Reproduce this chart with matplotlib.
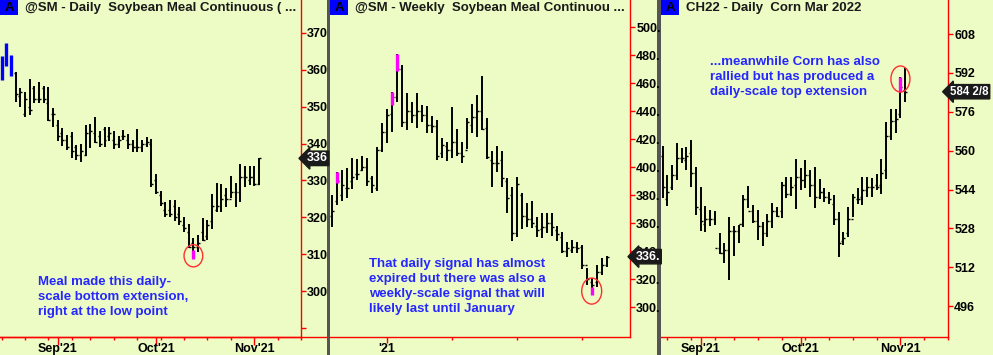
import numpy as np
import pandas as pd
import matplotlib
matplotlib.use("Agg")
import matplotlib.pyplot as plt
from matplotlib.patches import Rectangle, Ellipse
from matplotlib.lines import Line2D
import matplotlib.transforms as mtransforms

plt.rcParams['font.family'] = ['Liberation Sans', 'DejaVu Sans']

# ---------------- data ----------------
# Panel 1: @SM daily (bars start Mon 2021-08-16)
sm_d_high = [363.8, 367.2, 364.0, 359.5, 355.0, 354.1, 357.4, 355.6, 356.8, 355.6,
             355.3, 349.6, 346.4, 344.3, 342.4, 343.1, 339.5, 339.8, 345.1, 345.3,
             347.1, 343.5, 344.6, 344.4, 343.4, 342.1, 343.7, 342.6, 341.0, 343.9,
             341.0, 341.9, 341.3, 331.8, 327.2, 324.3, 324.6, 324.7, 322.9, 320.2,
             318.2, 314.3, 315.2, 319.8, 319.3, 326.3, 329.3, 329.1, 327.9, 331.3,
             329.3, 334.4, 334.0, 334.0, 333.9, 336.2]
sm_d_low = [357.3, 360.9, 358.2, 351.4, 349.8, 347.3, 347.8, 350.9, 350.9, 350.9,
            346.1, 344.6, 340.8, 339.4, 338.3, 336.0, 335.6, 335.1, 336.7, 338.7,
            340.1, 339.0, 339.0, 340.8, 338.5, 338.7, 341.0, 338.5, 337.6, 337.6,
            337.8, 339.0, 328.2, 326.4, 323.1, 320.0, 320.0, 318.9, 318.0, 316.1,
            311.6, 308.7, 310.7, 313.7, 313.9, 316.8, 321.6, 321.6, 322.9, 325.2,
            322.9, 324.3, 328.2, 328.8, 328.5, 328.8]
sm_d_open = [361, 362, 363, 359, 353, 348, 350, 355, 352, 355,
             351, 348, 345, 343, 341, 342, 339, 337, 337, 343,
             343, 342, 344, 342, 341, 340, 342, 341, 340, 339,
             339, 340, 340, 330, 326, 322, 322, 323, 321, 318,
             316, 313, 312, 316, 315, 319, 322, 323, 326, 325,
             327, 327, 331, 330, 331, 329]
sm_d_close = [360, 365, 359, 353.5, 354, 352, 349, 352, 352, 352,
              346.5, 348, 342, 341, 339, 338, 337, 338, 343, 343.5,
              340.5, 340, 341, 343, 340, 341, 342, 340, 339, 339,
              340, 340.5, 329, 327, 324, 321, 321, 320, 319, 317,
              312, 312, 313, 314, 318, 323, 323, 325, 325, 327,
              327, 331, 331, 331, 329, 336]
sm_d_blue = [0, 1, 2]
sm_d_signal = {41: (311.2, 308.7)}

# Panel 2: @SM weekly (bars start week of 2020-10-19)
sm_w_high = [380.0, 396.7, 397.9, 399.0, 406.2, 405.7, 407.9, 406.2, 393.6, 414.0,
             431.2, 441.2, 453.8, 480.7, 472.9, 452.6, 446.7, 453.1, 444.3, 443.6,
             436.4, 433.6, 420.5, 418.1, 443.1, 426.9, 418.1, 434.8, 445.0, 451.4,
             465.0, 434.8, 411.7, 415.0, 411.7, 392.4, 386.0, 393.1, 381.2, 374.0,
             375.9, 364.5, 366.9, 367.4, 367.4, 357.9, 353.8, 346.7, 347.9, 346.7,
             344.3, 327.6, 320.5, 330.0, 334.8, 336.4]
sm_w_low = [356.9, 372.9, 376.0, 377.6, 384.0, 390.7, 397.4, 386.7, 381.7, 383.1,
            410.9, 416.9, 425.2, 446.7, 428.3, 426.4, 431.2, 427.6, 432.4, 424.0,
            424.5, 405.0, 406.2, 404.5, 406.2, 407.9, 403.1, 412.6, 424.5, 421.7,
            426.4, 405.5, 386.0, 396.7, 386.0, 367.4, 347.4, 350.2, 355.5, 356.9,
            356.2, 350.2, 349.0, 353.1, 350.7, 347.4, 338.3, 335.5, 338.3, 338.3,
            326.9, 315.7, 308.6, 314.0, 322.9, 328.8]
sm_w_open = [365, 376, 380, 385, 390, 395, 398, 400, 392, 385,
             412, 425, 438, 450, 470, 432, 440, 437, 440, 437,
             430, 429, 410, 415, 412, 418, 410, 412, 430, 436,
             440, 428, 405, 403, 405, 390, 380, 353, 380, 365,
             363, 358, 356, 357, 360, 355, 350, 340, 341, 343,
             343, 330, 318, 318, 325, 330]
sm_w_close = [368.8, 390, 387, 385, 393, 395, 400, 390, 387, 412,
              425, 437, 450, 470, 432, 440, 437, 440, 437, 430,
              429, 408, 416, 412, 418, 410, 408, 432, 436, 440,
              427, 407, 403, 403, 392, 378, 353, 388, 365, 363,
              360, 355, 357, 360, 357, 352, 340, 342, 343, 342,
              330, 320, 316, 325, 330, 336]
sm_w_signal = {1: (396.7, 388.8), 12: (453.8, 444.3), 13: (480.7, 468.8), 52: (314.0, 308.6)}

# Panel 3: CH22 daily (bars start Fri 2021-08-20)
c_high = [561.9, 550.0, 554.1, 563.0, 561.0, 561.4, 564.4, 553.4, 545.2, 537.2,
          535.6, 535.3, 526.2, 522.1, 532.8, 529.0, 529.4, 541.7, 545.4, 537.6,
          535.6, 530.8, 533.9, 538.6, 536.9, 547.2, 549.0, 549.0, 556.4, 552.7,
          556.1, 552.0, 553.1, 548.2, 544.5, 543.1, 541.7, 534.9, 526.7, 536.9,
          542.2, 544.5, 549.3, 549.3, 548.6, 550.4, 556.4, 571.9, 577.0, 577.0,
          590.4, 593.9]
c_low = [540.4, 537.4, 543.8, 547.9, 554.8, 552.0, 544.9, 533.5, 527.1, 526.7,
         529.1, 529.4, 517.5, 513.9, 506.8, 516.6, 522.1, 528.7, 536.3, 530.1,
         523.2, 520.8, 524.3, 528.0, 532.8, 532.1, 540.4, 541.3, 535.8, 543.8,
         544.5, 541.1, 536.3, 540.0, 539.0, 538.0, 529.4, 516.4, 521.2, 524.6,
         532.8, 538.0, 537.6, 540.8, 540.8, 543.8, 542.2, 548.2, 564.4, 567.1,
         573.3, 580.2]
c_open = [558, 540, 545, 550, 557, 556, 559, 551, 536, 530,
          532, 532, 520, 518, 519, 527, 527, 530, 540, 535,
          531, 529, 526, 531, 535, 535, 546, 542, 546, 549,
          548, 550, 546, 541, 543, 541, 538, 532, 523, 526,
          532, 540, 541, 544, 545, 546, 546, 552, 566, 572,
          575, 585]
c_close = [545, 543, 550, 557, 557, 558, 551, 537, 531, 532,
           532, 520, 518, 519, 527, 527, 530, 540, 535, 531,
           529, 526, 531, 535, 533, 546, 542, 545, 549, 548,
           550, 546, 541, 543, 541, 540, 532, 522, 524, 532,
           541, 540, 544, 545, 545, 545, 551, 566, 572, 573,
           586, 584.25]
c_signal = {50: (590.4, 584.3)}

# tick values / labels
p1_yticks = [290, 300, 310, 320, 330, 340, 350, 360, 370]
p1_ylabels = ['', '300', '310', '320', '330', '340', '350', '360', '370']
p2_yticks = [300, 320, 340, 360, 380, 400, 420, 440, 460, 480, 500]
p2_ylabels = ['300.', '320.', '340.', '360.', '380.', '400.', '420.', '440.', '460.', '480.', '500.']
p3_yticks = [496, 512, 528, 544, 560, 576, 592, 608]
p3_ylabels = ['496', '512', '528', '544', '560', '576', '592', '608']

titles = ["@SM - Daily  Soybean Meal Continuous ( ...",
          "@SM - Weekly  Soybean Meal Continuou ...",
          "CH22 - Daily  Corn Mar 2022"]
notes = ["Meal made this daily-\nscale bottom extension,\nright at the low point",
         "That daily signal has almost\nexpired but there was also a\nweekly-scale signal that will\nlikely last until January",
         "...meanwhile Corn has also\nrallied but has produced a\ndaily-scale top extension"]
last_labels = ["336", "336.", "584 2/8"]

# ---------------- layout ----------------
W, H = 993, 355
BG = '#ECFCC4'
RED = '#FF0000'
BLUE_TXT = '#2626FF'

fig = plt.figure(figsize=(W / 100, H / 100), dpi=100)
fig.patch.set_facecolor('#555555')

def fx(p):
    return p / W

def fy(p):
    return 1 - p / H

# panel geometry in pixels: (left, right, axis_x)
panels = [(0, 327, 301), (330, 657, 630), (661, 993, 948)]
for l, r, a in panels:
    fig.add_artist(Rectangle((fx(l), 0), fx(r) - fx(l), 1, transform=fig.transFigure,
                             facecolor=BG, edgecolor='none', zorder=0))

# panel 1 bottom red line runs past its price axis
fig.add_artist(Line2D([fx(0), fx(327)], [fy(337), fy(337)], transform=fig.transFigure,
                      color=RED, lw=1.0, zorder=1))

def make_ax(l, a, xlim, ylim):
    ax = fig.add_axes([fx(l), fy(337), fx(a) - fx(l), fy(0) - fy(337)])
    ax.set_facecolor('none')
    ax.set_xlim(*xlim)
    ax.set_ylim(*ylim)
    for s in ['left', 'top']:
        ax.spines[s].set_visible(False)
    for s in ['right', 'bottom']:
        ax.spines[s].set_color(RED)
        ax.spines[s].set_linewidth(1.0)
    ax.yaxis.tick_right()
    ax.tick_params(axis='y', which='both', direction='out', length=3.5, width=1,
                   color=RED, labelcolor='black', labelsize=9, pad=1)
    ax.tick_params(axis='x', which='major', direction='out', length=5.5, width=1,
                   color=RED, labelcolor='black', labelsize=9, pad=-1.5)
    ax.tick_params(axis='x', which='minor', direction='out', length=2.5, width=1,
                   color=RED)
    return ax

def draw_ohlc(ax, o, h, lo, c, skip=()):
    idx = [i for i in range(len(h)) if i not in skip]
    xs = np.array(idx, dtype=float)
    ax.vlines(xs, [lo[i] for i in idx], [h[i] for i in idx], color='black', lw=1.4, zorder=3)
    ax.hlines([o[i] for i in idx], xs - 0.42, xs, color='black', lw=1.0, zorder=3)
    ax.hlines([c[i] for i in idx], xs, xs + 0.42, color='black', lw=1.0, zorder=3)

def draw_signals(ax, sig):
    for i, (top, bot) in sig.items():
        ax.vlines(i, bot, top, color='#FF00FF', lw=2.4, zorder=4)

def price_box(ax, val, text, size=9, off=4):
    tr = mtransforms.blended_transform_factory(ax.transAxes, ax.transData)
    ax.annotate(text, xy=(1.0, val), xycoords=tr, xytext=(off, 0), textcoords='offset points',
                ha='left', va='center', color='white', fontsize=size, fontweight='bold',
                zorder=6, annotation_clip=False,
                bbox=dict(boxstyle='larrow,pad=0.1', facecolor='#1a1a1a', edgecolor='#1a1a1a'))

def header(l, title):
    fig.add_artist(Rectangle((fx(l), fy(15)), fx(18), 15 / H, transform=fig.transFigure,
                             facecolor='#0000FF', edgecolor='none', zorder=5))
    fig.text(fx(l + 9), fy(8), 'A', ha='center', va='center', fontsize=9.5,
             fontweight='bold', color='black', zorder=6)
    fig.text(fx(l + 25), fy(8), title, ha='left', va='center', fontsize=9.5,
             fontweight='bold', color='#1a1a1a', zorder=6)

def daily_ticks(start, n):
    dates = pd.bdate_range(start, periods=n + 12, freq='C', holidays=['2021-09-06'])
    majors, labels, minors = [], [], []
    for i, d in enumerate(dates):
        if i == 0:
            if d.weekday() == 0:
                minors.append(i)
            continue
        prev = dates[i - 1]
        if d.month != prev.month:
            majors.append(i)
            labels.append(d.strftime("%b'%y"))
        if d.isocalendar()[1] != prev.isocalendar()[1]:
            minors.append(i)
    return majors, labels, minors

# ---- Panel 1 ----
ax1 = make_ax(0, 301, (-0.34, 59.86), (287.6, 378.9))
draw_ohlc(ax1, sm_d_open, sm_d_high, sm_d_low, sm_d_close, skip=sm_d_blue)
ax1.vlines(sm_d_blue, [sm_d_low[i] for i in sm_d_blue], [sm_d_high[i] for i in sm_d_blue],
           color='#0000FF', lw=2.4, zorder=4)
draw_signals(ax1, sm_d_signal)
ax1.set_yticks(p1_yticks)
ax1.set_yticklabels(p1_ylabels, fontweight='bold')
mj, lb, mn = daily_ticks('2021-08-16', len(sm_d_high))
ax1.set_xticks(mj)
ax1.set_xticklabels(lb, fontweight='bold')
ax1.set_xticks(mn, minor=True)
ax1.add_patch(Ellipse((41, 309.6), 4.0, 6.0, fill=False, edgecolor='#FF3030', lw=1.0, zorder=5))
price_box(ax1, sm_d_close[-1], last_labels[0])

# ---- Panel 2 ----
ax2 = make_ax(330, 630, (-0.34, 59.66), (278.6, 519.3))
draw_ohlc(ax2, sm_w_open, sm_w_high, sm_w_low, sm_w_close)
draw_signals(ax2, sm_w_signal)
ax2.set_yticks(p2_yticks)
ax2.set_yticklabels(p2_ylabels, fontweight='bold')
wdates = pd.date_range('2020-10-19', periods=62, freq='W-MON')
q_major, q_lab, q_minor = [], [], []
for i, d in enumerate(wdates):
    if d.month in (1, 4, 7, 10) and d.day <= 7:
        if d.month == 1:
            q_major.append(i)
            q_lab.append(d.strftime("'%y"))
        else:
            q_minor.append(i)
ax2.set_xticks(q_major)
ax2.set_xticklabels(q_lab, fontweight='bold')
ax2.set_xticks(q_minor, minor=True)
ax2.tick_params(axis='x', which='major', length=4, pad=0)
ax2.add_patch(Ellipse((52, 311.4), 4.0, 18.6, fill=False, edgecolor='#FF3030', lw=1.0, zorder=5))
price_box(ax2, sm_w_close[-1], last_labels[1])

# ---- Panel 3 ----
ax3 = make_ax(661, 948, (-0.34, 56.86), (483.3, 622.0))
draw_ohlc(ax3, c_open, c_high, c_low, c_close)
draw_signals(ax3, c_signal)
ax3.set_yticks(p3_yticks)
ax3.set_yticklabels(p3_ylabels, fontweight='bold')
mj, lb, mn = daily_ticks('2021-08-20', len(c_high))
ax3.set_xticks(mj)
ax3.set_xticklabels(lb, fontweight='bold')
ax3.set_xticks(mn, minor=True)
ax3.add_patch(Ellipse((50, 589.5), 4.0, 10.7, fill=False, edgecolor='#FF3030', lw=1.0, zorder=5))
price_box(ax3, c_close[-1], last_labels[2], size=8.3, off=1.5)

# headers
for (l, r, a), t in zip(panels, titles):
    header(l, t)

# annotations
note_pos = [(38, 276), (369, 258), (710, 56)]
for (x, y), t in zip(note_pos, notes):
    fig.text(fx(x), fy(y), t, ha='left', va='top', fontsize=9.5, fontweight='bold',
             color=BLUE_TXT, linespacing=1.32, zorder=6)

fig.savefig('out.png', dpi=100, facecolor=fig.get_facecolor())
